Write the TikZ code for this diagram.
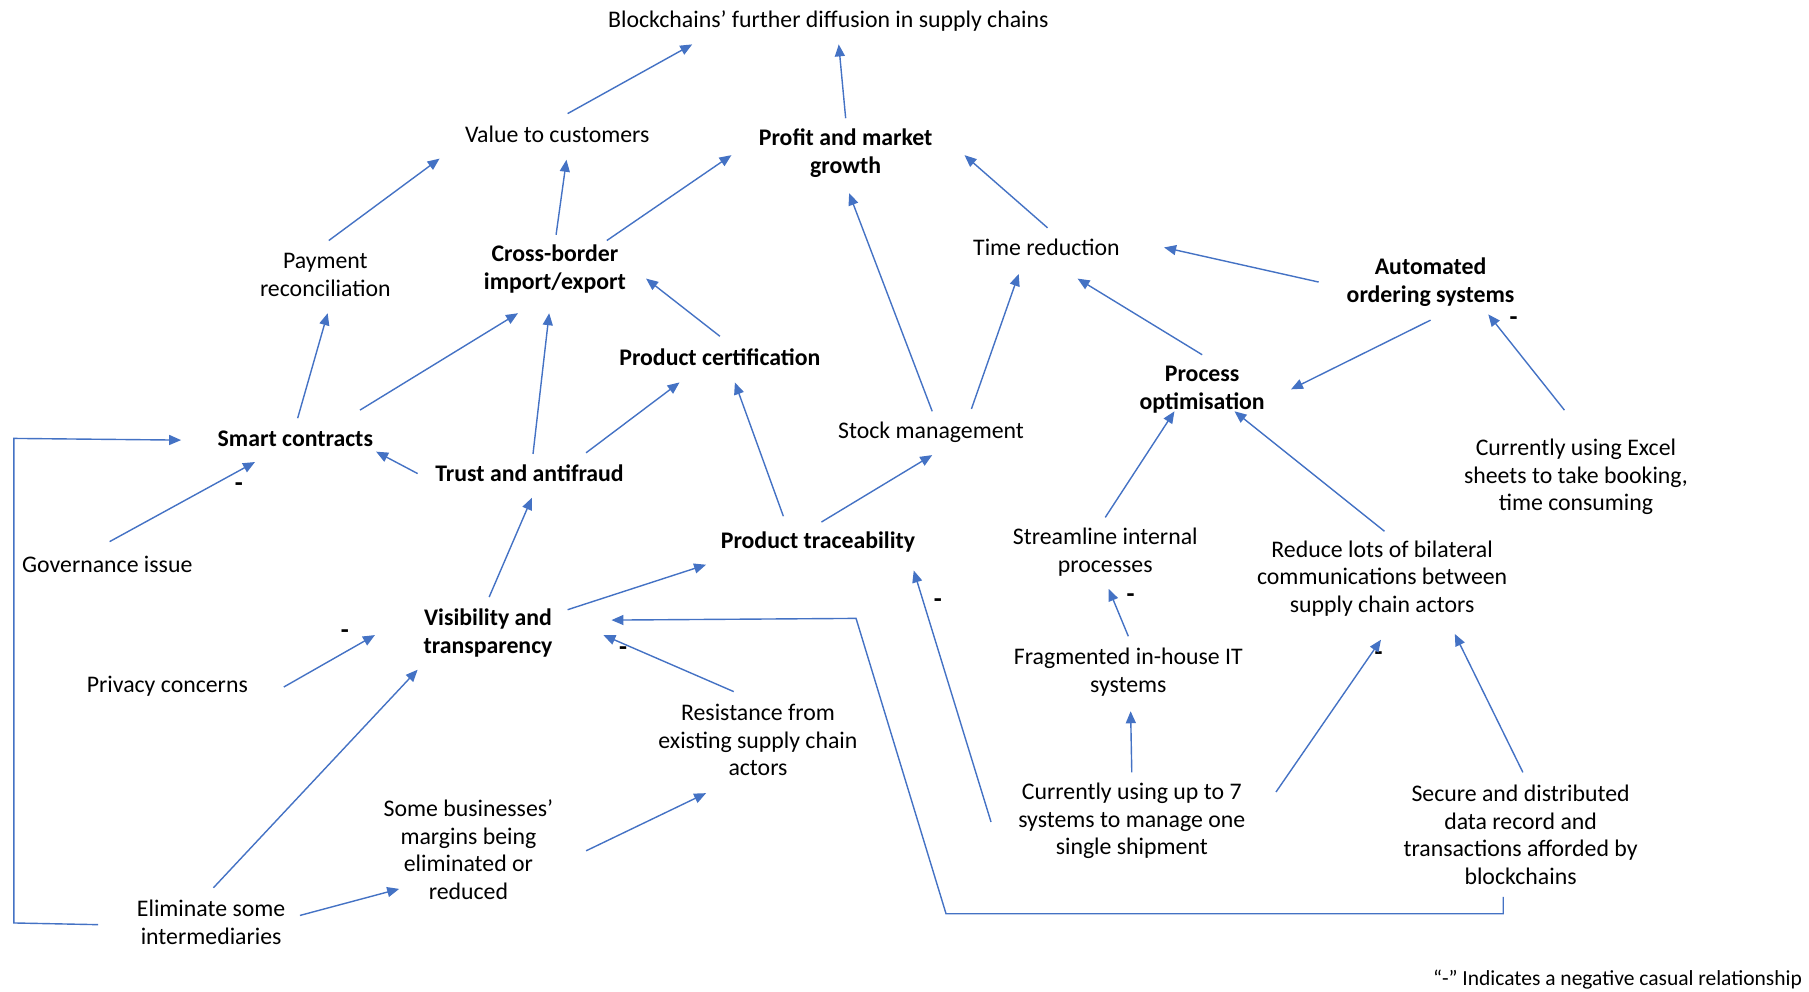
\documentclass[tikz,border=0pt]{standalone}
\usepackage{fontspec}
\setmainfont{Carlito}
\usetikzlibrary{arrows.meta}
\definecolor{arrowblue}{RGB}{68,114,196}
\tikzset{
  lbl/.style={align=center, font=\fontsize{23.8}{27.7}\selectfont, inner sep=0pt, yshift=-1.7pt},
  blbl/.style={lbl, font=\fontsize{23.8}{27.7}\selectfont\bfseries},
  minus/.style={font=\fontsize{26}{28}\selectfont\bfseries, inner sep=0pt},
  arr/.style={draw=arrowblue, line width=1.4pt, -{Triangle[length=12pt,width=10pt]}},
  link/.style={draw=arrowblue, line width=1.4pt}
}
\newcommand{\sft}[3]{([shift={(#1,#2)}]#3.center)}
\begin{document}
\begin{tikzpicture}[x=1.1537pt, y=-1.1537pt]
\useasboundingbox (0,0) rectangle (1568,859);
% nodes
\node[lbl]  (bc)     at (718,17)  {Blockchains’ further diffusion in supply chains};
\node[lbl]  (val)    at (483,115) {Value to customers};
\node[blbl] (prof)   at (733,131) {Profit and market\\growth};
\node[lbl]  (pay)    at (282,237) {Payment\\reconciliation};
\node[blbl] (cb)     at (481,232) {Cross-border\\import/export};
\node[lbl]  (time)   at (907,213) {Time reduction};
\node[blbl] (auto)   at (1240,243) {Automated\\ordering systems};
\node[blbl] (cert)   at (624,308) {Product certification};
\node[blbl] (proc)   at (1042,336) {Process\\optimisation};
\node[lbl]  (stock)  at (807,373) {Stock management};
\node[blbl] (smart)  at (256,379) {Smart contracts};
\node[blbl] (trust)  at (459,409) {Trust and antifraud};
\node[lbl]  (excel)  at (1366,412) {Currently using Excel\\sheets to take booking,\\time consuming};
\node[lbl]  (gov)    at (93,488)  {Governance issue};
\node[blbl] (trace)  at (709,468) {Product traceability};
\node[lbl]  (stream) at (958,477) {Streamline internal\\processes};
\node[lbl]  (reduce) at (1198,500) {Reduce lots of bilateral\\communications between\\supply chain actors};
\node[blbl] (vis)    at (423,547) {Visibility and\\transparency};
\node[lbl]  (priv)   at (145,593) {Privacy concerns};
\node[lbl]  (frag)   at (978,581) {Fragmented in-house IT\\systems};
\node[lbl]  (resist) at (657,640) {Resistance from\\existing supply chain\\actors};
\node[lbl]  (some)   at (406,735) {Some businesses’\\margins being\\eliminated or\\reduced};
\node[lbl]  (seven)  at (981,710) {Currently using up to 7\\systems to manage one\\single shipment};
\node[lbl]  (secure) at (1318,722) {Secure and distributed\\data record and\\transactions afforded by\\blockchains};
\node[lbl]  (elim)   at (183,798) {Eliminate some\\intermediaries};
\node[lbl, anchor=east, font=\fontsize{21.5}{24}\selectfont] (note) at (1562,848) {“-” Indicates a negative casual relationship};
% minus signs
\node[minus] (m1) at (1312,278) {-};
\node[minus] (m2) at (207,422) {-};
\node[minus] (m3) at (980,518) {-};
\node[minus] (m4) at (299,550) {-};
\node[minus] (m5) at (540,564) {-};
\node[minus] (m6) at (813,523) {-};
\node[minus] (m7) at (1195,569) {-};
% connectors
\draw[arr] \sft{9}{-18}{val} -- \sft{-118}{20}{bc};
\draw[arr] \sft{0}{-30}{prof} -- \sft{9}{20}{bc};
\draw[arr] \sft{3}{-30}{pay} -- \sft{-102}{21}{val};
\draw[arr] \sft{1}{-30}{cb} -- \sft{8}{22}{val};
\draw[arr] \sft{45}{-25}{cb} -- \sft{-99}{2}{prof};
\draw[arr] \sft{1}{-17}{time} -- \sft{103}{2}{prof};
\draw[arr] \sft{-97}{0}{auto} -- \sft{102}{0}{time};
\draw[arr] \sft{0}{-18}{cert} -- \sft{79}{8}{cb};
\draw[arr] \sft{0}{-30}{proc} -- \sft{27}{27}{time};
\draw[arr] \sft{0}{33}{auto} -- \sft{77}{0}{proc};
\draw[arr] \sft{1}{-18}{stock} -- \sft{3}{35}{prof};
\draw[arr] \sft{35}{-20}{stock} -- \sft{-24}{23}{time};
\draw[arr] \sft{2}{-18}{smart} -- \sft{2}{33}{pay};
\draw[arr] \sft{56}{-25}{smart} -- \sft{-32}{38}{cb};
\draw[arr] \sft{3}{-17}{trust} -- \sft{-5}{38}{cb};
\draw[arr] \sft{49}{-18}{trust} -- \sft{-35}{22}{cert};
\draw[arr] \sft{-97}{0}{trust} -- \sft{70}{11}{smart};
\draw[arr] \sft{-30}{-22}{trace} -- \sft{13}{22}{cert};
\draw[arr] \sft{3}{-17}{trace} -- \sft{1}{20}{stock};
\draw[arr] \sft{-10}{-58}{excel} -- \sft{50}{28}{auto};
\draw[arr] \sft{2}{-20}{gov} -- \sft{-35}{20}{smart};
\draw[arr] \sft{0}{-30}{stream} -- \sft{-24}{19}{proc};
\draw[arr] \sft{2}{-41}{reduce} -- \sft{28}{19}{proc};
\draw[arr] \sft{0}{-31}{frag} -- \sft{3}{32}{stream};
\draw[arr] \sft{1}{-31}{vis} -- \sft{2}{21}{trust};
\draw[arr] \sft{69}{-20}{vis} -- \sft{-97}{20}{trace};
\draw[arr] \sft{101}{1}{priv} -- \sft{-98}{2}{vis};
\draw[arr] \sft{-21}{-42}{resist} -- \sft{100}{2}{vis};
\draw[arr] \sft{2}{-30}{elim} -- \sft{-61}{32}{vis};
\draw[arr] \sft{77}{-6}{elim} -- \sft{-60}{34}{some};
\draw[arr] \sft{102}{1}{some} -- \sft{-45}{46}{resist};
\draw[arr] \sft{0}{-42}{seven} -- \sft{2}{34}{frag};
\draw[arr] \sft{-122}{1}{seven} -- \sft{83}{25}{trace};
\draw[arr] \sft{125}{-25}{seven} -- \sft{-1}{53}{reduce};
\draw[arr] \sft{2}{-54}{secure} -- \sft{63}{48}{reduce};
% elbow connectors
\coordinate (c1) at (820,792);
\coordinate (c2) at (742,536);
\draw[arr] \sft{-15}{54}{secure} |- (c1) -- (c2) -- \sft{107}{-11}{vis};
\coordinate (c3) at (12,800);
\coordinate (c4) at (12,380);
\draw[arr] \sft{-98}{2}{elim} -- (c3) -- (c4) -- \sft{-99}{1}{smart};
\end{tikzpicture}
\end{document}
